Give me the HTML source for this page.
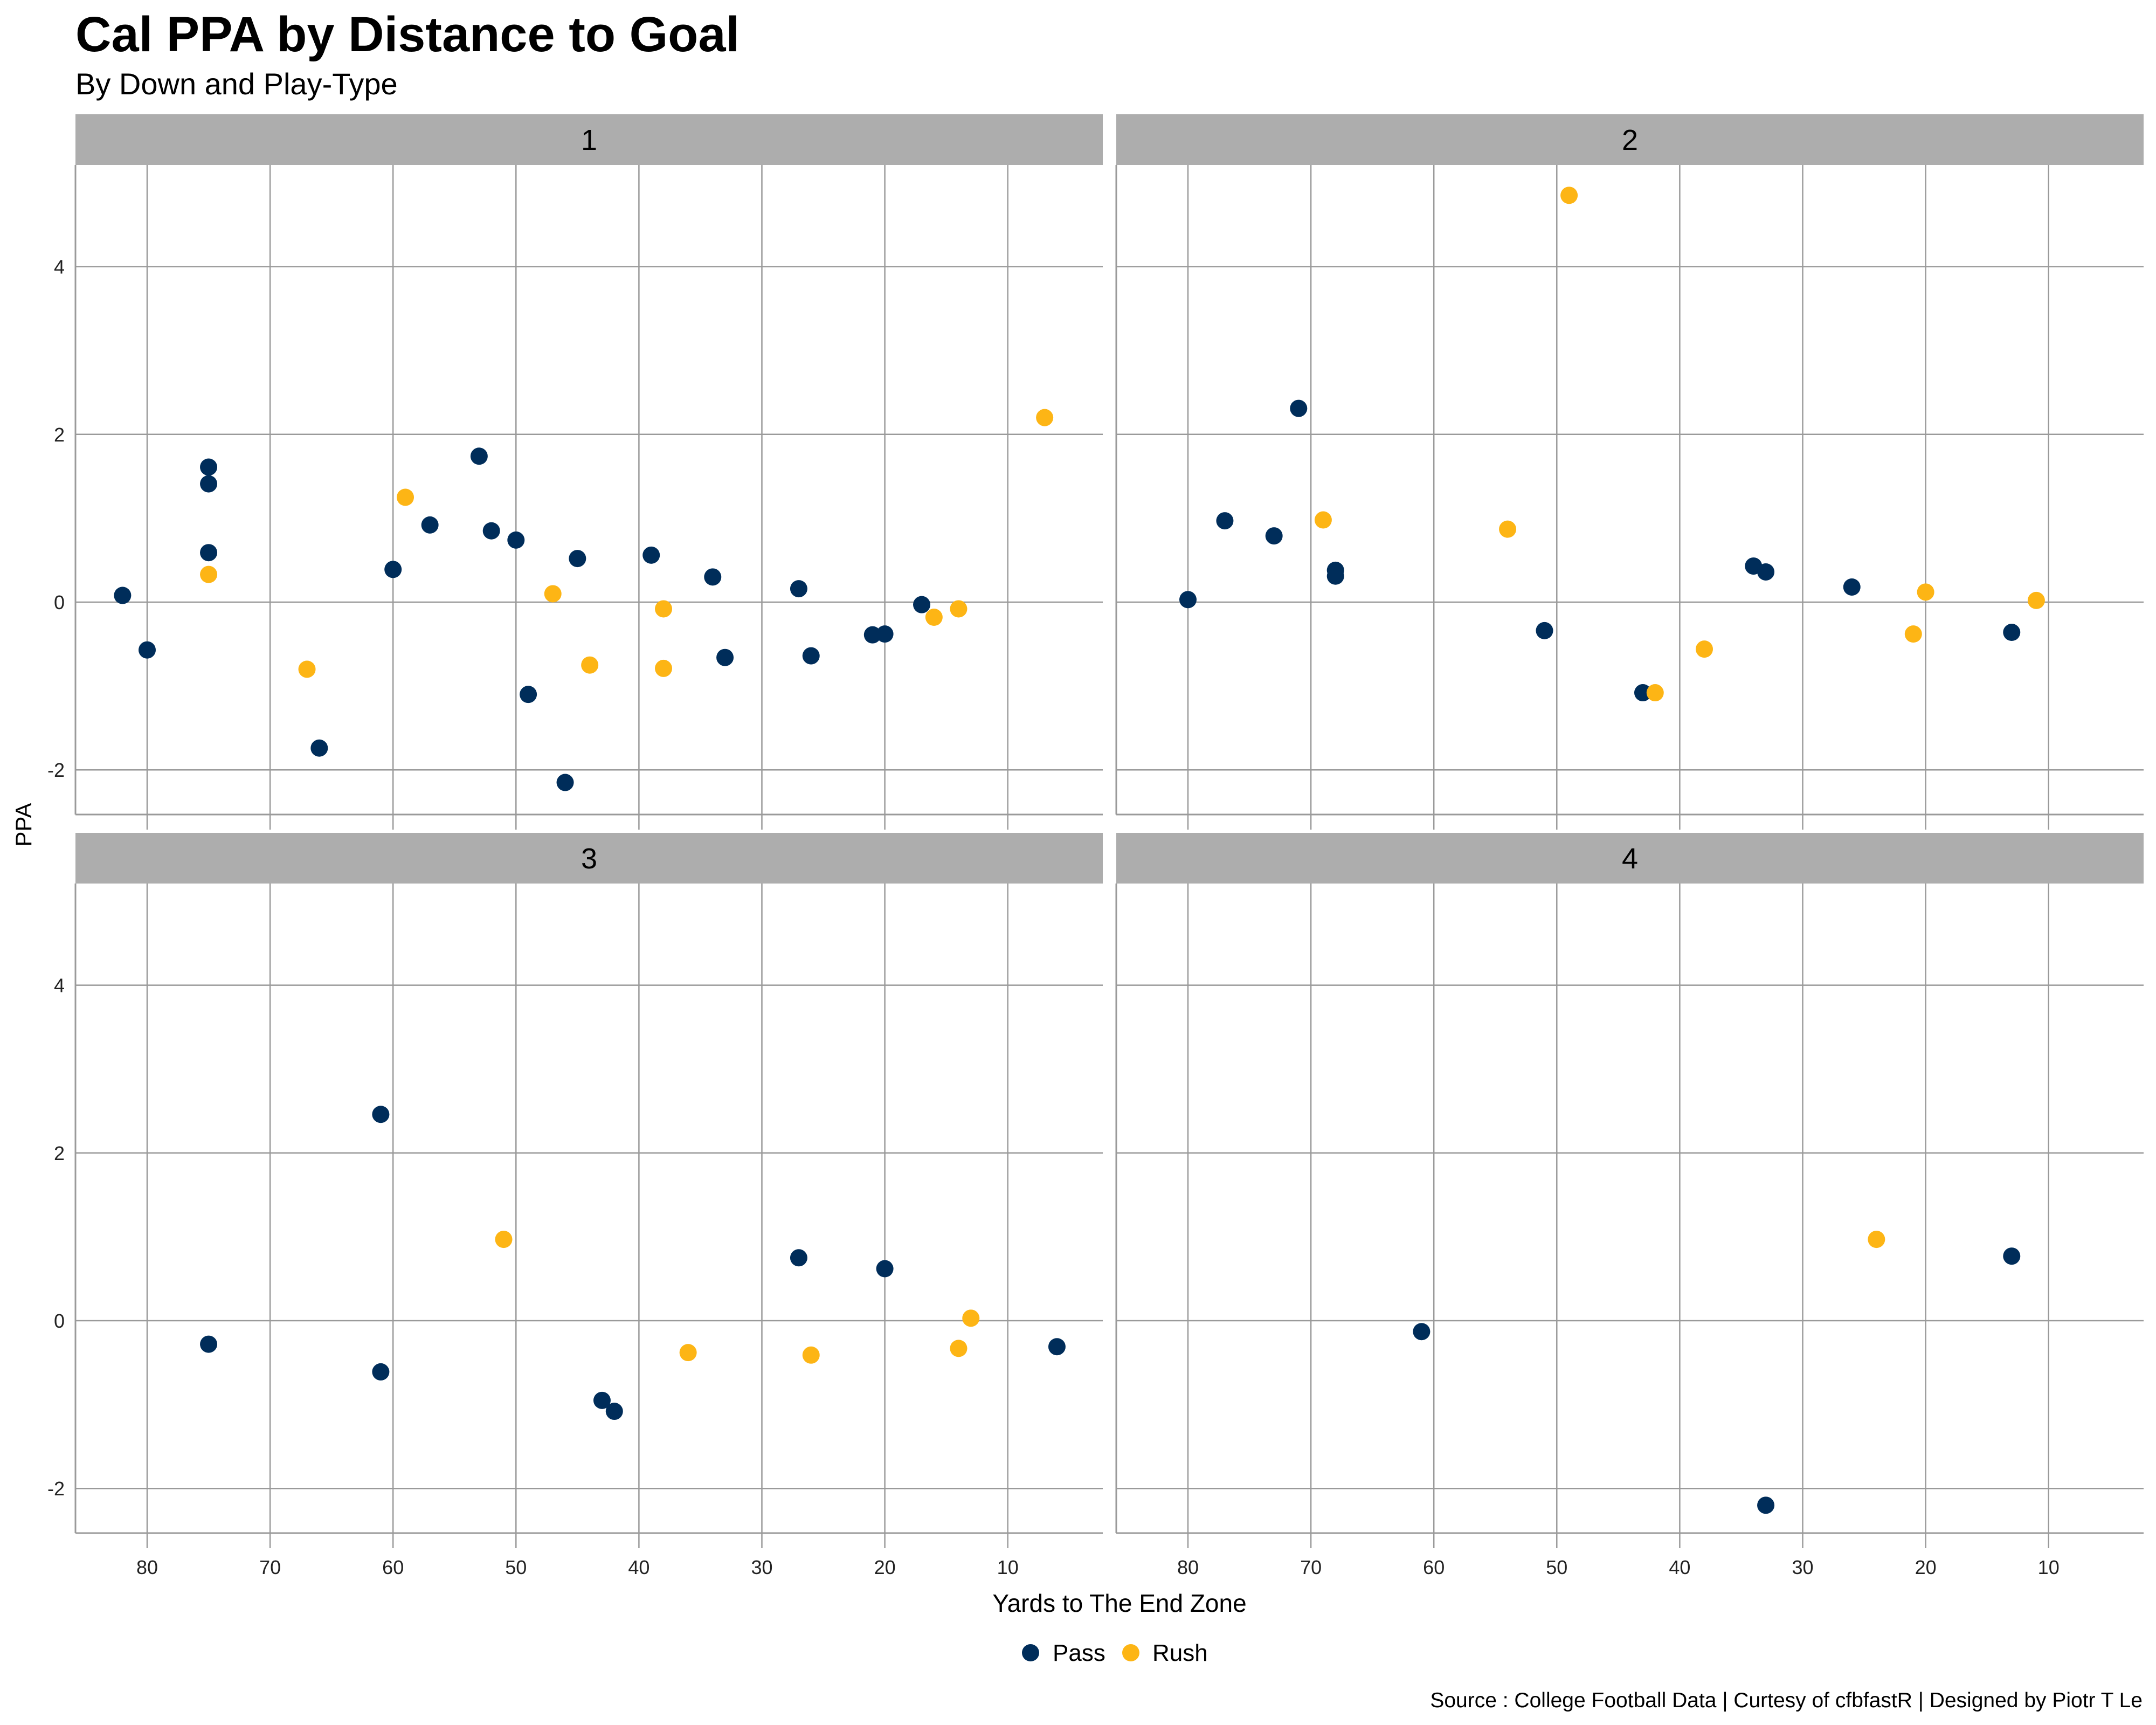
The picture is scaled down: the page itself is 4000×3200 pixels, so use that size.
<!DOCTYPE html>
<html><head><meta charset="utf-8"><style>
body{margin:0;background:#fff;}
svg{display:block;font-family:"Liberation Sans",sans-serif;}
</style></head><body>
<svg id="chart" width="4000" height="3200" viewBox="0 0 4000 3200" xmlns="http://www.w3.org/2000/svg">
<rect width="4000" height="3200" fill="#fff"/>
<text x="140" y="95" font-size="92" font-weight="bold" fill="#000">Cal PPA by Distance to Goal</text>
<text x="140" y="175" font-size="56" fill="#000">By Down and Play-Type</text>
<text transform="translate(58,1530) rotate(-90)" text-anchor="middle" font-size="42" fill="#000">PPA</text>
<text x="2077" y="2990" text-anchor="middle" font-size="46" fill="#000">Yards to The End Zone</text>
<g>
<circle cx="1912" cy="3066" r="16" fill="#002D5A"/>
<text x="1953" y="3081" font-size="44">Pass</text>
<circle cx="2098" cy="3066" r="16" fill="#FDB515"/>
<text x="2138" y="3081" font-size="44">Rush</text>
</g>
<text x="3975" y="3167" text-anchor="end" font-size="39" fill="#000">Source : College Football Data | Curtesy of cfbfastR | Designed by Piotr T Le</text>
<g id="panels"></g>
</svg>
<script>
const downs = ["1","2","3","4"];
const yTicks = [-2, 0, 2, 4];
const xTicks = [80, 70, 60, 50, 40, 30, 20, 10];
// [yards, ppa]
const pass1 = [[82,0.08],[80,-0.57],[75,1.61],[75,1.41],[75,0.59],[66,-1.74],[60,0.39],[57,0.92],[53,1.74],[52,0.85],[50,0.74],[49,-1.10],[46,-2.15],[45,0.52],[39,0.56],[34,0.30],[33,-0.66],[27,0.16],[26,-0.64],[21,-0.39],[20,-0.38],[17,-0.03]];
const rush1 = [[75,0.33],[67,-0.80],[59,1.25],[47,0.10],[44,-0.75],[38,-0.08],[38,-0.79],[16,-0.18],[14,-0.08],[7,2.20]];
const pass2 = [[80,0.03],[77,0.97],[73,0.79],[71,2.31],[68,0.38],[68,0.31],[51,-0.34],[43,-1.08],[34,0.43],[33,0.36],[26,0.18],[13,-0.36]];
const rush2 = [[69,0.98],[54,0.87],[49,4.85],[42,-1.08],[38,-0.56],[21,-0.38],[20,0.12],[11,0.02]];
const pass3 = [[75,-0.28],[61,2.46],[61,-0.61],[43,-0.95],[42,-1.08],[27,0.75],[20,0.62],[6,-0.31]];
const rush3 = [[51,0.97],[36,-0.38],[26,-0.41],[14,-0.33],[13,0.03]];
const pass4 = [[61,-0.13],[33,-2.20],[13,0.77]];
const rush4 = [[24,0.97]];
const passSeries = [pass1, pass2, pass3, pass4];
const rushSeries = [rush1, rush2, rush3, rush4];

const NS = "http://www.w3.org/2000/svg";
const root = document.getElementById("panels");
function mk(tag, attrs, parent){const e=document.createElementNS(NS,tag);for(const k in attrs)e.setAttribute(k,attrs[k]);parent.appendChild(e);return e;}
const panelX = [140, 2071], stripY = [212, 1545], stripH = 94;
const plotH = 1205, plotW = 1906;
downs.forEach((d, i) => {
  const col = i % 2, row = Math.floor(i / 2);
  const px = panelX[col], sy = stripY[row], py = sy + stripH;
  const xScale = v => px + 133 + (80 - v) * 22.81;
  const yScale = v => py + 811 - v * 155.6;
  const g = mk("g", {}, root);
  
  
  const strip = mk("rect", {x:px, y:sy, width:plotW, height:stripH, fill:"#ADADAD"}, g);
  
  
  const st = mk("text", {x:px+plotW/2, y:sy+66, "text-anchor":"middle", "font-size":"54", fill:"#000"}, g);
  st.textContent = d;
  
  
  yTicks.forEach(t => {
    const l = mk("line", {x1:px, x2:px+plotW, y1:yScale(t), y2:yScale(t), stroke:"#9a9a9a", "stroke-width":"2.5"}, g);
    
    
    if (col === 0) {
      const tx = mk("text", {x:px-20, y:yScale(t)+13, "text-anchor":"end", "font-size":"36", fill:"#222"}, g);
      tx.textContent = t;
      
      
    }
  });
  xTicks.forEach(t => {
    const l = mk("line", {x1:xScale(t), x2:xScale(t), y1:py, y2:py+plotH+28, stroke:"#9a9a9a", "stroke-width":"2.5"}, g);
    
    
    if (row === 1) {
      const tx = mk("text", {x:xScale(t), y:py+plotH+76, "text-anchor":"middle", "font-size":"36", fill:"#222"}, g);
      tx.textContent = t;
      
      
    }
  });
  const ax = mk("line", {x1:px, x2:px+plotW, y1:py+plotH, y2:py+plotH, stroke:"#9a9a9a", "stroke-width":"3"}, g);
  
  
  const ay = mk("line", {x1:px, x2:px, y1:py, y2:py+plotH, stroke:"#9a9a9a", "stroke-width":"3"}, g);
  
  
  [[passSeries[i], "#002D5A", "pass"], [rushSeries[i], "#FDB515", "rush"]].forEach(([arr, color, name]) => {
    arr.forEach(p => {
      const c = mk("circle", {cx:xScale(p[0]), cy:yScale(p[1]), r:16, fill:color}, g);
      
      
    });
  });
});
</script>
</body></html>
